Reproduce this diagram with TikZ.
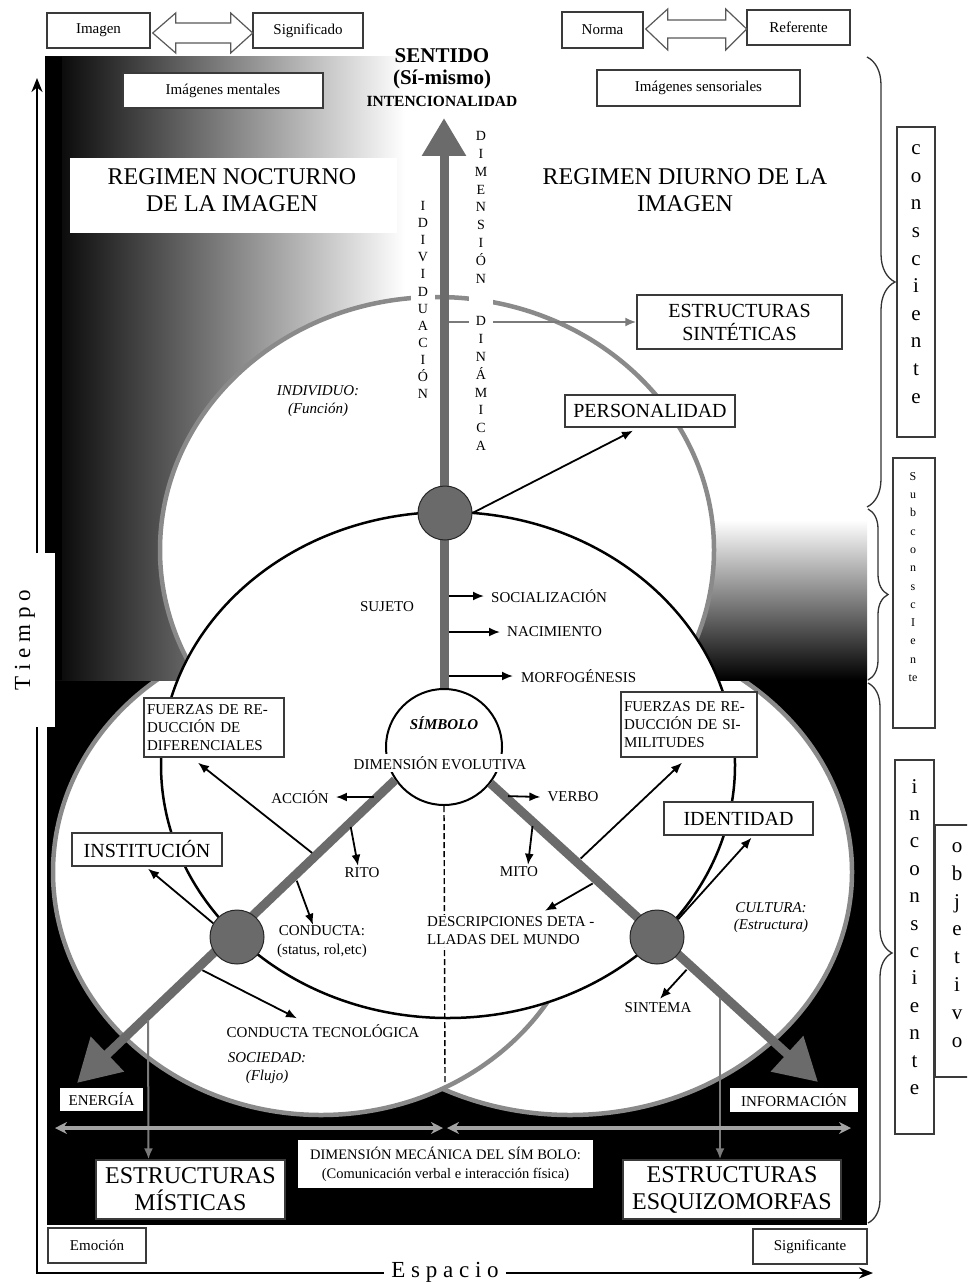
\documentclass[tikz,border=0pt]{standalone}
\usepackage{fontspec}
\setmainfont{Liberation Serif}
\usetikzlibrary{arrows.meta,calc,decorations.pathreplacing}
\definecolor{shaftgray}{HTML}{6B6B6B}
\definecolor{ringgray}{HTML}{8A8A8A}
\definecolor{hubgray}{HTML}{6A6A6A}
\definecolor{boxline}{HTML}{3A3A3A}
\definecolor{thingray}{HTML}{7A7A7A}
\definecolor{dimgraytwo}{HTML}{A3A3A3}
\begin{document}
\begin{tikzpicture}[x=1pt,y=-1pt,
  tlab/.style={font=\fontsize{15}{18}\selectfont, inner sep=1pt},
  tlabi/.style={font=\fontsize{15}{18}\selectfont\itshape, inner sep=1pt},
  tbig/.style={font=\fontsize{20}{23}\selectfont},
  thuge/.style={font=\fontsize{24}{27}\selectfont},
  lbox/.style={draw=boxline, line width=1.4pt, fill=white},
  wbox/.style={fill=white},
  ring/.style={draw=ringgray, line width=4.5pt, fill=white},
  shaft/.style={draw=shaftgray, line width=9pt},
  hub/.style={circle, draw=black!85, line width=1pt, fill=hubgray, minimum size=54pt, inner sep=0pt},
  barrow/.style={draw=black, line width=1.8pt, -{Latex[length=11pt,width=9pt]}},
  garrow/.style={draw=thingray, line width=2pt, -{Latex[length=11pt,width=9pt]}},
  hollow/.style={draw=black!65, line width=1.2pt, fill=white},
  vcol/.style={align=center, fill=white, inner sep=1pt, minimum width=24pt},
  vbox/.style={draw=boxline, line width=1.4pt, fill=white, inner sep=0pt},
  axisline/.style={draw=black, line width=2.5pt},
  bracestyle/.style={draw=black!80, line width=1.3pt, decorate}
]
\clip (0,0) rectangle (967,1284);
\fill[white] (0,0) rectangle (967,1284);

% ---------- backgrounds ----------
\fill[black] (47,680) rectangle (867,1225);
\draw[ring] (570,872) ellipse [x radius=282pt, y radius=243pt];
\draw[ring] (321,872) ellipse [x radius=268pt, y radius=243pt];
\fill[white] (45,57) rectangle (867,680);
\shade[left color=black, middle color=black!58, right color=white] (45,57) rectangle (405,680);
\fill[black] (45,57) rectangle (62,680);
\shade[top color=white, bottom color=black] (690,520) rectangle (867,680);
\fill[white] (34,553) rectangle (55,727);

% ---------- big circles ----------
\draw[ring] (437,550) ellipse [x radius=277pt, y radius=253pt];
\draw[black, line width=2.5pt, fill=white] (448,765) ellipse [x radius=287pt, y radius=253pt];

\node[wbox, minimum width=327pt, minimum height=75pt, inner sep=0pt] (noctbg) at (233.5,195.5) {};

% ---------- symbol circle and shafts ----------
\node[circle, draw=black, line width=2pt, fill=white, minimum size=116pt, inner sep=0pt] (simbolo) at (444,747) {};
\coordinate (topTip) at (444,118);
\coordinate (tipL) at (77,1083);
\coordinate (tipR) at (818,1082);
\coordinate (junc) at (445,1083);

\draw[black, line width=1.4pt, dash pattern=on 6pt off 3pt] (simbolo.south) -- (junc);

\draw[shaft, -{Triangle[length=38pt,width=42pt]}] (simbolo.north) -- (topTip);
\draw[shaft, -{Triangle[length=42pt,width=46pt]}] (simbolo.214) -- (tipL);
\draw[shaft, -{Triangle[length=42pt,width=46pt]}] (simbolo.-38) -- (tipR);

\node[hub] (hubT) at (445,513) {};
\node[hub] (hubL) at (237,937) {};
\node[hub] (hubR) at (657,937) {};

% ---------- shaft start points ----------
\coordinate (sSoc) at (444,596);
\coordinate (sNac) at (444,632);
\coordinate (sMorf) at (444,676);
\coordinate (sBr) at (444,322);
\coordinate (sAcc) at (378,797);
\coordinate (sRito) at (350,823);
\coordinate (sFdif) at (316,856);
\coordinate (sCond) at (295,876);
\coordinate (sCtec) at (198,968);
\coordinate (sMist) at (148,1015);
\coordinate (sVerbo) at (504,796);
\coordinate (sMito) at (533,822);
\coordinate (sFsim) at (577,862);
\coordinate (sDesc) at (597,881);
\coordinate (sSintema) at (690,966);
\coordinate (sEsq) at (720,993);

% ---------- top boxes ----------
\node[lbox, tlab, minimum width=103pt, minimum height=35pt] (img) at (98.5,30.5) {Imagen};
\node[lbox, tlab, minimum width=110pt, minimum height=35pt] (sig) at (308,30.5) {Significado};
\node[lbox, tlab, minimum width=81pt, minimum height=36pt] (norma) at (602.5,30) {Norma};
\node[lbox, tlab, minimum width=103pt, minimum height=35pt] (refe) at (798.5,27.5) {Referente};
\node[lbox, tlab, minimum width=200pt, minimum height=35pt] (imgm) at (223,90.5) {Imágenes mentales};
\node[lbox, tlab, minimum width=203pt, minimum height=36pt] (imgs) at (698.5,88) {Imágenes sensoriales};

\draw[hollow] ($(img.east)+(2,2.5)$) -- ++(23,-20) -- ++(0,10) -- ++(55,0) -- ++(0,-10)
  -- ++(22,20) -- ++(-22,20) -- ++(0,-10) -- ++(-55,0) -- ++(0,10) -- cycle;
\draw[hollow] ($(norma.east)+(2,-1)$) -- ++(22,-20) -- ++(0,11) -- ++(58,0) -- ++(0,-11)
  -- ++(21,20) -- ++(-21,21) -- ++(0,-12) -- ++(-58,0) -- ++(0,12) -- cycle;

\node[font=\fontsize{21}{22}\selectfont\bfseries, align=center, inner sep=1pt] (sent) at (442,69) {SENTIDO\\(Sí-mismo)};
\node[font=\fontsize{15.5}{17}\selectfont\bfseries, inner sep=1pt] (intenc) at (442,101) {INTENCIONALIDAD};

\node[thuge, align=center] (noct) at (232,190) {REGIMEN NOCTURNO\\DE LA IMAGEN};
\node[thuge, align=center] (diurno) at (685,190) {REGIMEN DIURNO DE LA\\IMAGEN};

% branch to synthetic structures and vertical letter columns
\node[lbox, tbig, align=center, minimum width=205pt, minimum height=54pt] (sint) at (739.5,322) {ESTRUCTURAS\\SINTÉTICAS};
\draw[garrow, shorten <=4.5pt] (sBr) -- (sint.west);
\node[vcol, font=\fontsize{14}{17.1}\selectfont] (colInd) at (423,300) {I\\D\\I\\V\\I\\D\\U\\A\\C\\I\\Ó\\N};
\node[vcol, font=\fontsize{14}{17.8}\selectfont] (colDim) at (481,291) {D\\I\\M\\E\\N\\S\\I\\Ó\\N\\[25pt]D\\I\\N\\Á\\M\\I\\C\\A};

% ---------- middle labels ----------
\node[lbox, tbig, minimum width=170pt, minimum height=32pt] (pers) at (650,411) {PERSONALIDAD};
\node[tlabi, align=center] (indivl) at (318,401) {INDIVIDUO:\\(Función)};
\node[tlab] (suj) at (387,607) {SUJETO};
\node[tlab, anchor=west] (soc) at (490,596) {SOCIALIZACIÓN};
\node[tlab, anchor=west] (nac) at (506,632) {NACIMIENTO};
\node[tlab, anchor=west] (morf) at (520,676) {MORFOGÉNESIS};

\node[font=\fontsize{15}{18}\selectfont\bfseries\itshape, inner sep=1pt] (simb) at (444,723) {SÍMBOLO};
\node[tlab, fill=white, inner sep=2pt] (devol) at (440,763) {DIMENSIÓN EVOLUTIVA};

\node[lbox, tlab, align=left, text width=134pt, inner xsep=3pt, inner ysep=2pt, minimum height=59pt] (fdif) at (214,727.5) {FUERZAS DE RE-\\DUCCIÓN DE\\DIFERENCIALES};
\node[lbox, tlab, align=left, text width=130pt, inner xsep=3pt, inner ysep=2pt, minimum height=65pt] (fsim) at (689,724.5) {FUERZAS DE RE-\\DUCCIÓN DE SI-\\MILITUDES};
\node[lbox, tbig, minimum width=150pt, minimum height=33pt] (inst) at (147,849.5) {INSTITUCIÓN};
\node[lbox, tbig, minimum width=149pt, minimum height=33pt] (ident) at (738.5,818.5) {IDENTIDAD};

\node[tlab] (acc) at (300,797) {ACCIÓN};
\node[tlab] (verbo) at (573,797) {VERBO};
\node[tlab] (rito) at (362,873) {RITO};
\node[tlab] (mito) at (519,872) {MITO};
\node[tlab, align=center, font=\fontsize{15}{19}\selectfont] (cond) at (322,942) {CONDUCTA:\\(status, rol,etc)};
\node[tlab] (ctec) at (323,1031) {CONDUCTA TECNOLÓGICA};
\node[tlabi, align=center] (soci) at (267,1068) {SOCIEDAD:\\(Flujo)};
\node[tlabi, align=center, font=\fontsize{15}{17}\selectfont\itshape] (cult) at (771,918) {CULTURA:\\(Estructura)};
\node[tlab] (sintema) at (658,1008) {SINTEMA};
\node[tlab, align=left, fill=white, anchor=west, inner sep=2pt] (desc) at (425,931) {DESCRIPCIONES DETA -\\LLADAS DEL MUNDO};

% ---------- bottom boxes ----------
\node[wbox, tlab, minimum width=83pt, minimum height=23pt] (energ) at (101.5,1099.5) {ENERGÍA};
\node[wbox, tlab, minimum width=128pt, minimum height=24pt] (inform) at (794,1100) {INFORMACIÓN};
\node[wbox, align=center, font=\fontsize{14.5}{19}\selectfont, minimum width=295pt, minimum height=48pt] (mec) at (445.5,1164) {DIMENSIÓN MECÁNICA DEL SÍM BOLO:\\(Comunicación verbal e interacción física)};
\node[lbox, thuge, align=center, minimum width=189pt, minimum height=59pt, inner sep=1pt] (mist) at (190.5,1189.5) {ESTRUCTURAS\\MÍSTICAS};
\node[lbox, thuge, align=center, minimum width=218pt, minimum height=59pt, inner sep=1pt] (esq) at (732,1189.5) {ESTRUCTURAS\\ESQUIZOMORFAS};
\node[lbox, tlab, minimum width=98pt, minimum height=35pt] (emo) at (97,1245.5) {Emoción};
\node[lbox, tlab, minimum width=114pt, minimum height=35pt] (signif) at (810,1246.5) {Significante};

% ---------- arrows ----------
\draw[barrow] (hubT.east) -- ($(pers.south)+(-17,3)$);
\draw[barrow, shorten <=4.5pt] (sSoc) -- ([xshift=-6pt]soc.west);
\draw[barrow, shorten <=4.5pt] (sNac) -- ([xshift=-6pt]nac.west);
\draw[barrow, shorten <=4.5pt] (sMorf) -- ([xshift=-7pt]morf.west);
\draw[barrow, shorten <=4pt] (sAcc) -- ([xshift=6pt]acc.east);
\draw[barrow, shorten <=4pt] (sVerbo) -- ([xshift=-6pt]verbo.west);
\draw[barrow, shorten <=4pt] (sRito) -- ($(rito.north)+(-4,-1)$);
\draw[barrow, shorten <=4pt] (sMito) -- ($(mito.north)+(9,-1)$);
\draw[barrow, shorten <=5pt] (sFdif) -- ($(fdif.south)+(-16,5)$);
\draw[barrow, shorten <=5pt] (sFsim) -- ($(fsim.south)+(-7,5)$);
\draw[barrow, shorten <=5pt] (sCond) -- ($(cond.north)+(-9,0)$);
\draw[barrow, shorten <=5pt] (sCtec) -- ($(ctec.north)+(-26,-5)$);
\draw[barrow, shorten <=5pt] (sDesc) -- ($(desc.north west)+(120,-4)$);
\draw[barrow, shorten <=5pt] (sSintema) -- ($(sintema.north)+(2,-3)$);
\draw[barrow] (hubL.150) -- ($(inst.south)+(1,2)$);
\draw[barrow] (hubR.40) -- ($(ident.south)+(13,2)$);
\draw[garrow, shorten <=5pt] (sMist) -- ($(mist.north)+(-42,0)$);
\draw[garrow, shorten <=5pt] (sEsq) -- ($(esq.north)+(-12,0)$);

\coordinate (dA) at (55,1128);
\coordinate (dB) at (443,1128);
\coordinate (dC) at (447,1128);
\coordinate (dD) at (851,1128);
\draw[draw=dimgraytwo, line width=4pt, {Stealth[length=12pt,width=12pt]}-{Stealth[length=12pt,width=12pt]}] (dA) -- (dB);
\draw[draw=dimgraytwo, line width=4pt, {Stealth[length=12pt,width=12pt]}-{Stealth[length=12pt,width=12pt]}] (dC) -- (dD);

% ---------- right side boxes and braces ----------
\node[vbox, minimum width=38pt, minimum height=310pt] (bCons) at (916,282) {};
\node[font=\fontsize{21}{27.6}\selectfont, align=center, inner sep=0pt] (tCons) at (916,274) {c\\o\\n\\s\\c\\i\\e\\n\\t\\e};
\node[vbox, minimum width=42pt, minimum height=270pt] (bSub) at (914,593) {};
\node[font=\fontsize{12}{18.3}\selectfont, align=center, inner sep=0pt] (tSub) at (913,577) {S\\u\\b\\c\\o\\n\\s\\c\\I\\e\\n\\te};
\node[vbox, minimum width=39pt, minimum height=374pt] (bInc) at (914.5,947) {};
\node[font=\fontsize{21}{27.4}\selectfont, align=center, inner sep=0pt] (tInc) at (914.5,937) {i\\n\\c\\o\\n\\s\\c\\i\\e\\n\\t\\e};
\node[vbox, minimum width=50pt, minimum height=252pt] (bObj) at (960,951) {};
\node[font=\fontsize{21}{27.9}\selectfont, align=center, inner sep=0pt] (tObj) at (957,945) {o\\b\\j\\e\\t\\i\\v\\o};

\draw[bracestyle, decoration={brace, amplitude=28pt}] (867,57) -- (867,507);
\draw[bracestyle, decoration={brace, amplitude=20pt}] (868,509) -- (868,680);
\draw[bracestyle, decoration={brace, amplitude=24pt}] (868,683) -- (868,1223);

% ---------- axes ----------
\coordinate (orig) at (37,1273);
\coordinate (tTop) at (37,78);
\coordinate (eEnd) at (873,1273);
\coordinate (tGapLo) at (37,727);
\coordinate (tGapHi) at (37,553);
\node[rotate=90, font=\fontsize{23}{25}\selectfont, inner sep=0pt] (tiempo) at (25,640) {T i e m p o};
\node[font=\fontsize{23}{25}\selectfont, inner sep=7pt] (espacio) at (445,1272) {E s p a c i o};
\draw[axisline] (tGapLo) -- (orig) -- (espacio.west |- orig);
\draw[axisline, -{Stealth[length=14pt,width=11pt]}] (espacio.east |- orig) -- (eEnd);
\draw[axisline, -{Stealth[length=14pt,width=11pt]}] (tGapHi) -- (tTop);
\end{tikzpicture}
\end{document}
